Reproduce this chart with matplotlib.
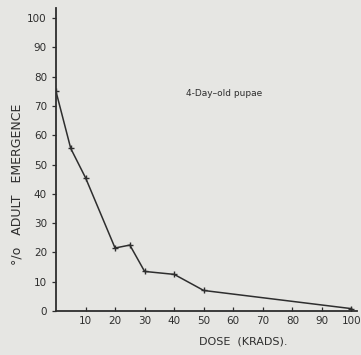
import matplotlib.pyplot as plt

dose = [0, 5, 10, 20, 25, 30, 40, 50, 100]
emergence = [75, 55.5, 45.5, 21.5, 22.5, 13.5, 12.5, 7, 0.8]
xticks = [10, 20, 30, 40, 50, 60, 70, 80, 90, 100]
yticks = [0, 10, 20, 30, 40, 50, 60, 70, 80, 90, 100]

ink = '#2e2e2e'
bg = '#e6e6e3'

fig = plt.figure(figsize=(3.61, 3.55), dpi=100, facecolor=bg)
ax = fig.add_axes([0.155, 0.124, 0.835, 0.854], facecolor=bg)

ax.plot(dose, emergence, color=ink, linewidth=1.1, marker='+', markersize=4, markeredgewidth=1)

ax.set_xlim(0, 102)
ax.set_ylim(0, 103.5)
ax.set_xticks(xticks)
ax.set_yticks(yticks)
ax.tick_params(colors=ink, labelsize=7.5, length=3, width=0.9)
ax.tick_params(axis='x', direction='in')
for s in ['top', 'right']:
    ax.spines[s].set_visible(False)
for s in ['left', 'bottom']:
    ax.spines[s].set_color(ink)
    ax.spines[s].set_linewidth(1.3)

ax.set_xlabel('DOSE  (KRADS).', fontsize=8, color=ink)
ax.xaxis.set_label_coords(0.62, -0.085)
fig.text(17 / 361, 1 - 184 / 355, '°/o   ADULT   EMERGENCE', rotation=90,
         ha='center', va='center', fontsize=9, color=ink)
ax.text(44, 73.5, '4-Day\u2013old pupae', fontsize=6.5, color=ink)

fig.savefig('out.png', dpi=100, facecolor=bg)
